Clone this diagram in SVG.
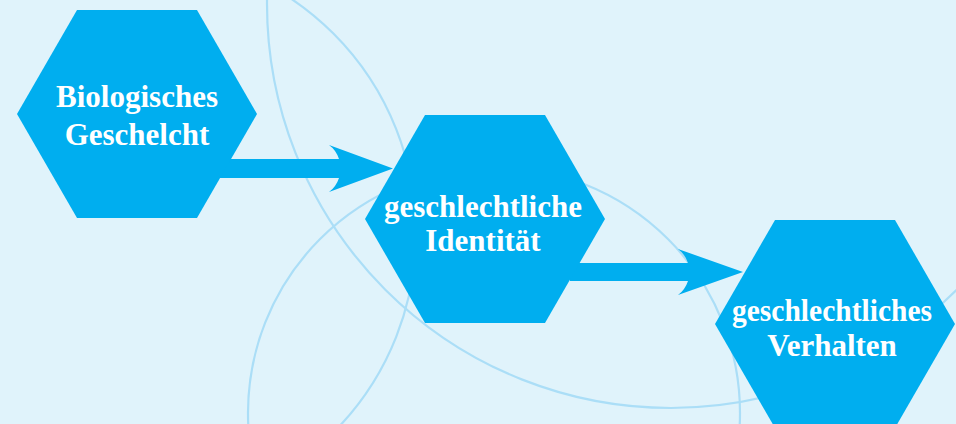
<svg xmlns="http://www.w3.org/2000/svg" width="956" height="424" viewBox="0 0 956 424">
  <style>
    .bg { fill: #e0f3fb; }
    .ring { fill: none; stroke: #abdef7; stroke-width: 2.2; }
    .hex { fill: #00aeef; }
    .conn { fill: #00aeef; }
    .lbl { font-family: "Liberation Serif", "Times New Roman", serif; font-weight: bold; font-size: 31px; fill: #ffffff; text-anchor: middle; }
  </style>
  <defs>
    <polygon id="hexshape" points="120,0 60,104 -60,104 -120,0 -60,-104 60,-104"/>
  </defs>
  <rect class="bg" x="0" y="0" width="956" height="424"/>
  <g id="background-rings">
    <circle class="ring" cx="671" cy="4" r="404"/>
    <circle class="ring" cx="134" cy="233" r="282"/>
    <circle class="ring" cx="494" cy="413" r="246"/>
  </g>
  <g id="connectors">
    <path class="conn" d="M220,159 L339,159 Q336,150 329,145 L393,168.5 L329,192 Q336,187 339,178 L220,178 Z"/>
    <path class="conn" d="M570,263 L688,263 Q685,254 678,249 L743,272 L678,295 Q685,290 688,281 L570,281 Z"/>
  </g>
  <g id="node-biologisches-geschlecht">
    <use href="#hexshape" class="hex" x="137" y="114"/>
    <text class="lbl" x="137" y="107">Biologisches</text>
    <text class="lbl" x="137" y="145">Geschelcht</text>
  </g>
  <g id="node-geschlechtliche-identitaet">
    <use href="#hexshape" class="hex" x="485" y="219"/>
    <text class="lbl" x="483" y="216.5">geschlechtliche</text>
    <text class="lbl" x="483" y="250.5">Identität</text>
  </g>
  <g id="node-geschlechtliches-verhalten">
    <use href="#hexshape" class="hex" x="835" y="324"/>
    <text class="lbl" x="832" y="321" textLength="200" lengthAdjust="spacingAndGlyphs">geschlechtliches</text>
    <text class="lbl" x="832" y="355.5">Verhalten</text>
  </g>
</svg>
